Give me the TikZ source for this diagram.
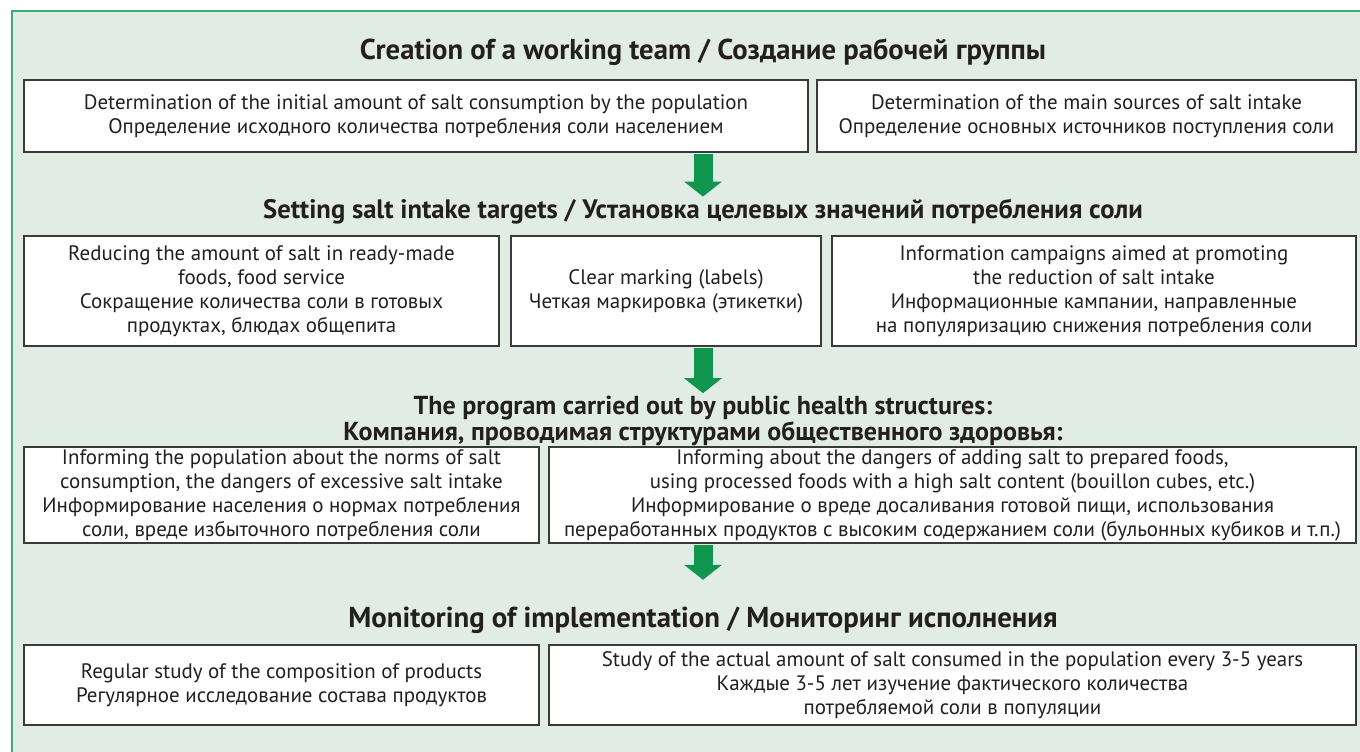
\documentclass[tikz,border=0pt]{standalone}
\usepackage{fontspec}
\setmainfont{PT Sans}
\usetikzlibrary{arrows.meta}
\definecolor{panelgreen}{HTML}{E0ECE4}
\definecolor{framegreen}{HTML}{3FAA78}
\definecolor{arrowgreen}{HTML}{10964F}
\definecolor{boxline}{HTML}{3A3A3A}
\definecolor{textdark}{HTML}{231F20}
\tikzset{
  stagebox/.style={draw=boxline, line width=1.5pt, fill=white, align=center, text=textdark,
    inner sep=2pt, font=\fontsize{15.7}{18}\selectfont},
  stagetitle/.style={text=textdark, align=center, inner sep=2pt},
  downarrow/.style={draw=arrowgreen, line width=14.25pt, shorten <=0.75pt,
    -{Triangle[width=28.5pt,length=11.25pt,line width=0pt,fill=arrowgreen]}}
}
\begin{document}
\begin{tikzpicture}[x=0.75pt,y=-0.75pt]
	\useasboundingbox (0,0) rectangle (1360,752);
	\draw[framegreen, fill=panelgreen, line width=1.2pt] (12,11) rectangle (1400,800);

	% stage 1
	\node[stagetitle, font=\bfseries\fontsize{21.5}{24}\selectfont] (title1) at (703,52) {Creation of a working team / Создание рабочей группы};
	\node[stagebox, minimum width=588pt, minimum height=54pt] (initial) at (416,116)
		{Determination of the initial amount of salt consumption by the population\\Определение исходного количества потребления соли населением};
	\node[stagebox, minimum width=404.25pt, minimum height=54pt] (sources) at (1086.5,116)
		{Determination of the main sources of salt intake\\Определение основных источников поступления соли};

	% stage 2
	\node[stagetitle, font=\bfseries\fontsize{20}{22}\selectfont] (title2) at (703,212) {Setting salt intake targets / Установка целевых значений потребления соли};
	\node[stagebox, minimum width=356.25pt, minimum height=82.5pt] (reduce) at (261.5,291)
		{Reducing the amount of salt in ready-made\\foods, food service\\Сокращение количества соли в готовых\\продуктах, блюдах общепита};
	\node[stagebox, minimum width=232.5pt, minimum height=82.5pt] (labels) at (666,291)
		{Clear marking (labels)\\Четкая маркировка (этикетки)};
	\node[stagebox, minimum width=393pt, minimum height=82.5pt] (campaign) at (1094,291)
		{Information campaigns aimed at promoting\\the reduction of salt intake\\Информационные кампании, направленные\\на популяризацию снижения потребления соли};

	% stage 3
	\node[stagetitle, font=\bfseries\fontsize{19.5}{19.5}\selectfont] (title3) at (703,421) {The program carried out by public health structures:\\Компания, проводимая структурами общественного здоровья:};
	\node[stagebox, minimum width=386.25pt, minimum height=66pt] (norms) at (281.5,495)
		{Informing the population about the norms of salt\\consumption, the dangers of excessive salt intake\\Информирование населения о нормах потребления\\соли, вреде избыточного потребления соли};
	\node[stagebox, minimum width=605.25pt, minimum height=66pt] (dangers) at (952.5,495)
		{Informing about the dangers of adding salt to prepared foods,\\using processed foods with a high salt content (bouillon cubes, etc.)\\Информирование о вреде досаливания готовой пищи, использования\\переработанных продуктов с высоким содержанием соли (бульонных кубиков и т.п.)};

	% stage 4
	\node[stagetitle, font=\bfseries\fontsize{21.6}{24}\selectfont] (title4) at (703,620) {Monitoring of implementation / Мониторинг исполнения};
	\node[stagebox, minimum width=386.25pt, minimum height=60pt] (products) at (281.5,685)
		{Regular study of the composition of products\\Регулярное исследование состава продуктов};
	\node[stagebox, minimum width=605.25pt, minimum height=60pt] (actual) at (952.5,685)
		{Study of the actual amount of salt consumed in the population every 3-5 years\\Каждые 3-5 лет изучение фактического количества\\потребляемой соли  в популяции};

	% arrows
	\draw[downarrow] (initial.south -| title2) -- (title2.north);
	\draw[downarrow] (labels.south -| title3) -- (title3.north);
	\draw[downarrow, shorten >=18pt] (dangers.south -| title4) -- (title4.north);
\end{tikzpicture}
\end{document}
